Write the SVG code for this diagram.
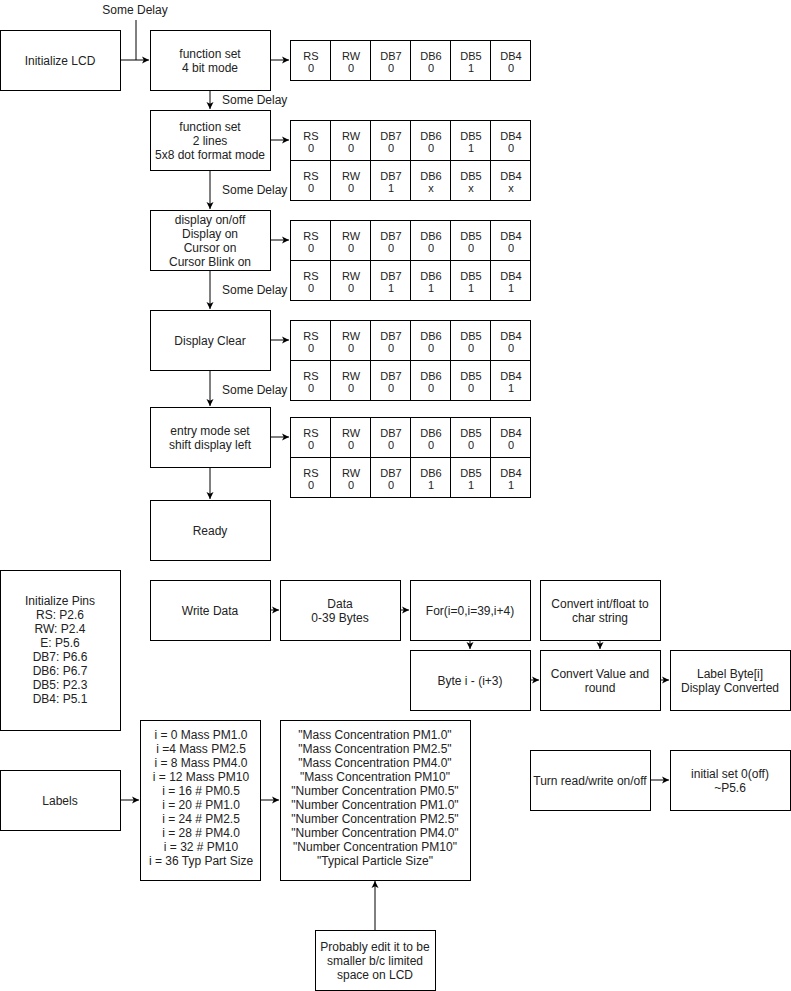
<svg xmlns="http://www.w3.org/2000/svg" width="791" height="991" viewBox="0 0 791 991">
<style>
.b{fill:#fff;stroke:#000;stroke-width:1}
.t{font-family:"Liberation Sans",Arial,sans-serif;font-size:12px;fill:#222;text-anchor:middle}
.l{font-family:"Liberation Sans",Arial,sans-serif;font-size:12px;fill:#222}
.c{font-family:"Liberation Sans Narrow","Liberation Sans",Arial,sans-serif;font-size:11px;fill:#222;text-anchor:middle}
.e{fill:none;stroke:#000;stroke-width:1}
</style>
<defs>
<marker id="a" markerWidth="8" markerHeight="8" refX="7" refY="4" orient="auto" markerUnits="userSpaceOnUse">
<path d="M0,0.5 L7,4 L0,7.5 L1.8,4 z" fill="#000"/>
</marker>
</defs>
<rect width="791" height="991" fill="#fff"/>

<g id="connectors">
<path class="e" d="M120,60 H149" marker-end="url(#a)"/>
<path class="e" d="M136,20 V60"/>
<path class="e" d="M270,60 H289" marker-end="url(#a)"/>
<path class="e" d="M210,90 V109" marker-end="url(#a)"/>
<path class="e" d="M270,140 H289" marker-end="url(#a)"/>
<path class="e" d="M210,170 V209" marker-end="url(#a)"/>
<path class="e" d="M270,240 H289" marker-end="url(#a)"/>
<path class="e" d="M210,270 V309" marker-end="url(#a)"/>
<path class="e" d="M270,340 H289" marker-end="url(#a)"/>
<path class="e" d="M210,370 V406" marker-end="url(#a)"/>
<path class="e" d="M270,437 H289" marker-end="url(#a)"/>
<path class="e" d="M210,467 V499" marker-end="url(#a)"/>
<path class="e" d="M270,610 H279" marker-end="url(#a)"/>
<path class="e" d="M400,610 H409" marker-end="url(#a)"/>
<path class="e" d="M470,640 V649" marker-end="url(#a)"/>
<path class="e" d="M600,640 V649" marker-end="url(#a)"/>
<path class="e" d="M530,680 H539" marker-end="url(#a)"/>
<path class="e" d="M660,680 H669" marker-end="url(#a)"/>
<path class="e" d="M120,800 H139" marker-end="url(#a)"/>
<path class="e" d="M261,800 H279" marker-end="url(#a)"/>
<path class="e" d="M375,930 V881" marker-end="url(#a)"/>
<path class="e" d="M650,780 H669" marker-end="url(#a)"/>
<text class="t" x="135" y="14">Some Delay</text>
<text class="l" x="222" y="104">Some Delay</text>
<text class="l" x="222" y="194">Some Delay</text>
<text class="l" x="222" y="294">Some Delay</text>
<text class="l" x="222" y="394">Some Delay</text>
</g>

<g id="init-lcd"><rect class="b" x="0.5" y="30.5" width="120" height="60"/><text class="t" x="60" y="64.5">Initialize LCD</text></g>
<g id="func-4bit"><rect class="b" x="150.5" y="30.5" width="120" height="60"/><text class="t" x="210" y="57.5">function set</text><text class="t" x="210" y="71.5">4 bit mode</text></g>
<g id="func-2lines"><rect class="b" x="150.5" y="110.5" width="120" height="60"/><text class="t" x="210" y="130.5">function set</text><text class="t" x="210" y="144.5">2 lines</text><text class="t" x="210" y="158.5">5x8 dot format mode</text></g>
<g id="display-onoff"><rect class="b" x="150.5" y="210.5" width="120" height="60"/><text class="t" x="210" y="223.5">display on/off</text><text class="t" x="210" y="237.5">Display on</text><text class="t" x="210" y="251.5">Cursor on</text><text class="t" x="210" y="265.5">Cursor Blink on</text></g>
<g id="display-clear"><rect class="b" x="150.5" y="310.5" width="120" height="60"/><text class="t" x="210" y="344.5">Display Clear</text></g>
<g id="entry-mode"><rect class="b" x="150.5" y="407.5" width="120" height="60"/><text class="t" x="210" y="434.5">entry mode set</text><text class="t" x="210" y="448.5">shift display left</text></g>
<g id="ready"><rect class="b" x="150.5" y="500.5" width="120" height="60"/><text class="t" x="210" y="534.5">Ready</text></g>

<g id="table1">
<rect class="b" x="290.5" y="40.5" width="240" height="40"/>
<path class="e" d="M330.5,40.5V80.5M370.5,40.5V80.5M410.5,40.5V80.5M450.5,40.5V80.5M490.5,40.5V80.5"/>
<text class="c" x="311" y="60">RS</text><text class="c" x="351" y="60">RW</text><text class="c" x="391" y="60">DB7</text><text class="c" x="431" y="60">DB6</text><text class="c" x="471" y="60">DB5</text><text class="c" x="511" y="60">DB4</text>
<text class="c" x="311" y="72">0</text><text class="c" x="351" y="72">0</text><text class="c" x="391" y="72">0</text><text class="c" x="431" y="72">0</text><text class="c" x="471" y="72">1</text><text class="c" x="511" y="72">0</text>
</g>

<g id="table2">
<rect class="b" x="290.5" y="120.5" width="240" height="80"/>
<path class="e" d="M290.5,160.5H530.5M330.5,120.5V200.5M370.5,120.5V200.5M410.5,120.5V200.5M450.5,120.5V200.5M490.5,120.5V200.5"/>
<text class="c" x="311" y="140">RS</text><text class="c" x="351" y="140">RW</text><text class="c" x="391" y="140">DB7</text><text class="c" x="431" y="140">DB6</text><text class="c" x="471" y="140">DB5</text><text class="c" x="511" y="140">DB4</text>
<text class="c" x="311" y="152">0</text><text class="c" x="351" y="152">0</text><text class="c" x="391" y="152">0</text><text class="c" x="431" y="152">0</text><text class="c" x="471" y="152">1</text><text class="c" x="511" y="152">0</text>
<text class="c" x="311" y="180">RS</text><text class="c" x="351" y="180">RW</text><text class="c" x="391" y="180">DB7</text><text class="c" x="431" y="180">DB6</text><text class="c" x="471" y="180">DB5</text><text class="c" x="511" y="180">DB4</text>
<text class="c" x="311" y="192">0</text><text class="c" x="351" y="192">0</text><text class="c" x="391" y="192">1</text><text class="c" x="431" y="192">x</text><text class="c" x="471" y="192">x</text><text class="c" x="511" y="192">x</text>
</g>

<g id="table3">
<rect class="b" x="290.5" y="220.5" width="240" height="80"/>
<path class="e" d="M290.5,260.5H530.5M330.5,220.5V300.5M370.5,220.5V300.5M410.5,220.5V300.5M450.5,220.5V300.5M490.5,220.5V300.5"/>
<text class="c" x="311" y="240">RS</text><text class="c" x="351" y="240">RW</text><text class="c" x="391" y="240">DB7</text><text class="c" x="431" y="240">DB6</text><text class="c" x="471" y="240">DB5</text><text class="c" x="511" y="240">DB4</text>
<text class="c" x="311" y="252">0</text><text class="c" x="351" y="252">0</text><text class="c" x="391" y="252">0</text><text class="c" x="431" y="252">0</text><text class="c" x="471" y="252">0</text><text class="c" x="511" y="252">0</text>
<text class="c" x="311" y="280">RS</text><text class="c" x="351" y="280">RW</text><text class="c" x="391" y="280">DB7</text><text class="c" x="431" y="280">DB6</text><text class="c" x="471" y="280">DB5</text><text class="c" x="511" y="280">DB4</text>
<text class="c" x="311" y="292">0</text><text class="c" x="351" y="292">0</text><text class="c" x="391" y="292">1</text><text class="c" x="431" y="292">1</text><text class="c" x="471" y="292">1</text><text class="c" x="511" y="292">1</text>
</g>

<g id="table4">
<rect class="b" x="290.5" y="320.5" width="240" height="80"/>
<path class="e" d="M290.5,360.5H530.5M330.5,320.5V400.5M370.5,320.5V400.5M410.5,320.5V400.5M450.5,320.5V400.5M490.5,320.5V400.5"/>
<text class="c" x="311" y="340">RS</text><text class="c" x="351" y="340">RW</text><text class="c" x="391" y="340">DB7</text><text class="c" x="431" y="340">DB6</text><text class="c" x="471" y="340">DB5</text><text class="c" x="511" y="340">DB4</text>
<text class="c" x="311" y="352">0</text><text class="c" x="351" y="352">0</text><text class="c" x="391" y="352">0</text><text class="c" x="431" y="352">0</text><text class="c" x="471" y="352">0</text><text class="c" x="511" y="352">0</text>
<text class="c" x="311" y="380">RS</text><text class="c" x="351" y="380">RW</text><text class="c" x="391" y="380">DB7</text><text class="c" x="431" y="380">DB6</text><text class="c" x="471" y="380">DB5</text><text class="c" x="511" y="380">DB4</text>
<text class="c" x="311" y="392">0</text><text class="c" x="351" y="392">0</text><text class="c" x="391" y="392">0</text><text class="c" x="431" y="392">0</text><text class="c" x="471" y="392">0</text><text class="c" x="511" y="392">1</text>
</g>

<g id="table5">
<rect class="b" x="290.5" y="417.5" width="240" height="80"/>
<path class="e" d="M290.5,457.5H530.5M330.5,417.5V497.5M370.5,417.5V497.5M410.5,417.5V497.5M450.5,417.5V497.5M490.5,417.5V497.5"/>
<text class="c" x="311" y="437">RS</text><text class="c" x="351" y="437">RW</text><text class="c" x="391" y="437">DB7</text><text class="c" x="431" y="437">DB6</text><text class="c" x="471" y="437">DB5</text><text class="c" x="511" y="437">DB4</text>
<text class="c" x="311" y="449">0</text><text class="c" x="351" y="449">0</text><text class="c" x="391" y="449">0</text><text class="c" x="431" y="449">0</text><text class="c" x="471" y="449">0</text><text class="c" x="511" y="449">0</text>
<text class="c" x="311" y="477">RS</text><text class="c" x="351" y="477">RW</text><text class="c" x="391" y="477">DB7</text><text class="c" x="431" y="477">DB6</text><text class="c" x="471" y="477">DB5</text><text class="c" x="511" y="477">DB4</text>
<text class="c" x="311" y="489">0</text><text class="c" x="351" y="489">0</text><text class="c" x="391" y="489">0</text><text class="c" x="431" y="489">1</text><text class="c" x="471" y="489">1</text><text class="c" x="511" y="489">1</text>
</g>

<g id="init-pins"><rect class="b" x="0.5" y="570.5" width="120" height="160"/>
<text class="t" x="60" y="605">Initialize Pins</text><text class="t" x="60" y="619">RS: P2.6</text><text class="t" x="60" y="633">RW: P2.4</text><text class="t" x="60" y="647">E: P5.6</text><text class="t" x="60" y="661">DB7: P6.6</text><text class="t" x="60" y="675">DB6: P6.7</text><text class="t" x="60" y="689">DB5: P2.3</text><text class="t" x="60" y="703">DB4: P5.1</text></g>

<g id="write-data"><rect class="b" x="150.5" y="580.5" width="120" height="60"/><text class="t" x="210" y="614.5">Write Data</text></g>
<g id="data"><rect class="b" x="280.5" y="580.5" width="120" height="60"/><text class="t" x="340" y="607.5">Data</text><text class="t" x="340" y="621.5">0-39 Bytes</text></g>
<g id="for-loop"><rect class="b" x="410.5" y="580.5" width="120" height="60"/><text class="t" x="470" y="614.5">For(i=0,i=39,i+4)</text></g>
<g id="convert-int"><rect class="b" x="540.5" y="580.5" width="120" height="60"/><text class="t" x="600" y="607.5">Convert int/float to</text><text class="t" x="600" y="621.5">char string</text></g>
<g id="byte-i"><rect class="b" x="410.5" y="650.5" width="120" height="60"/><text class="t" x="470" y="684.5">Byte i - (i+3)</text></g>
<g id="convert-value"><rect class="b" x="540.5" y="650.5" width="120" height="60"/><text class="t" x="600" y="677.5">Convert Value and</text><text class="t" x="600" y="691.5">round</text></g>
<g id="label-byte"><rect class="b" x="670.5" y="650.5" width="120" height="60"/><text class="t" x="730" y="677.5">Label Byte[i]</text><text class="t" x="730" y="691.5">Display Converted</text></g>

<g id="labels"><rect class="b" x="0.5" y="770.5" width="120" height="60"/><text class="t" x="60" y="804.5">Labels</text></g>
<g id="index-list"><rect class="b" x="140.5" y="720.5" width="120" height="160"/>
<text class="t" x="201" y="739">i = 0 Mass PM1.0</text><text class="t" x="201" y="753">i =4 Mass PM2.5</text><text class="t" x="201" y="767">i = 8 Mass PM4.0</text><text class="t" x="201" y="781">i = 12 Mass PM10</text><text class="t" x="201" y="795">i = 16 # PM0.5</text><text class="t" x="201" y="809">i = 20 # PM1.0</text><text class="t" x="201" y="823">i = 24 # PM2.5</text><text class="t" x="201" y="837">i = 28 # PM4.0</text><text class="t" x="201" y="851">i = 32 # PM10</text><text class="t" x="201" y="865">i = 36 Typ Part Size</text></g>
<g id="strings"><rect class="b" x="280.5" y="720.5" width="190" height="160"/>
<text class="t" x="375" y="739">"Mass Concentration PM1.0"</text><text class="t" x="375" y="753">"Mass Concentration PM2.5"</text><text class="t" x="375" y="767">"Mass Concentration PM4.0"</text><text class="t" x="375" y="781">"Mass Concentration PM10"</text><text class="t" x="375" y="795">"Number Concentration PM0.5"</text><text class="t" x="375" y="809">"Number Concentration PM1.0"</text><text class="t" x="375" y="823">"Number Concentration PM2.5"</text><text class="t" x="375" y="837">"Number Concentration PM4.0"</text><text class="t" x="375" y="851">"Number Concentration PM10"</text><text class="t" x="375" y="865">"Typical Particle Size"</text></g>
<g id="probably"><rect class="b" x="315.5" y="930.5" width="120" height="60"/><text class="t" x="375" y="950.5">Probably edit it to be</text><text class="t" x="375" y="964.5">smaller b/c limited</text><text class="t" x="375" y="978.5">space on LCD</text></g>

<g id="turn-rw"><rect class="b" x="530.5" y="750.5" width="120" height="60"/><text class="t" x="590" y="784.5">Turn read/write on/off</text></g>
<g id="initial-set"><rect class="b" x="670.5" y="750.5" width="120" height="60"/><text class="t" x="730" y="777.5">initial set 0(off)</text><text class="t" x="730" y="791.5">~P5.6</text></g>
</svg>
